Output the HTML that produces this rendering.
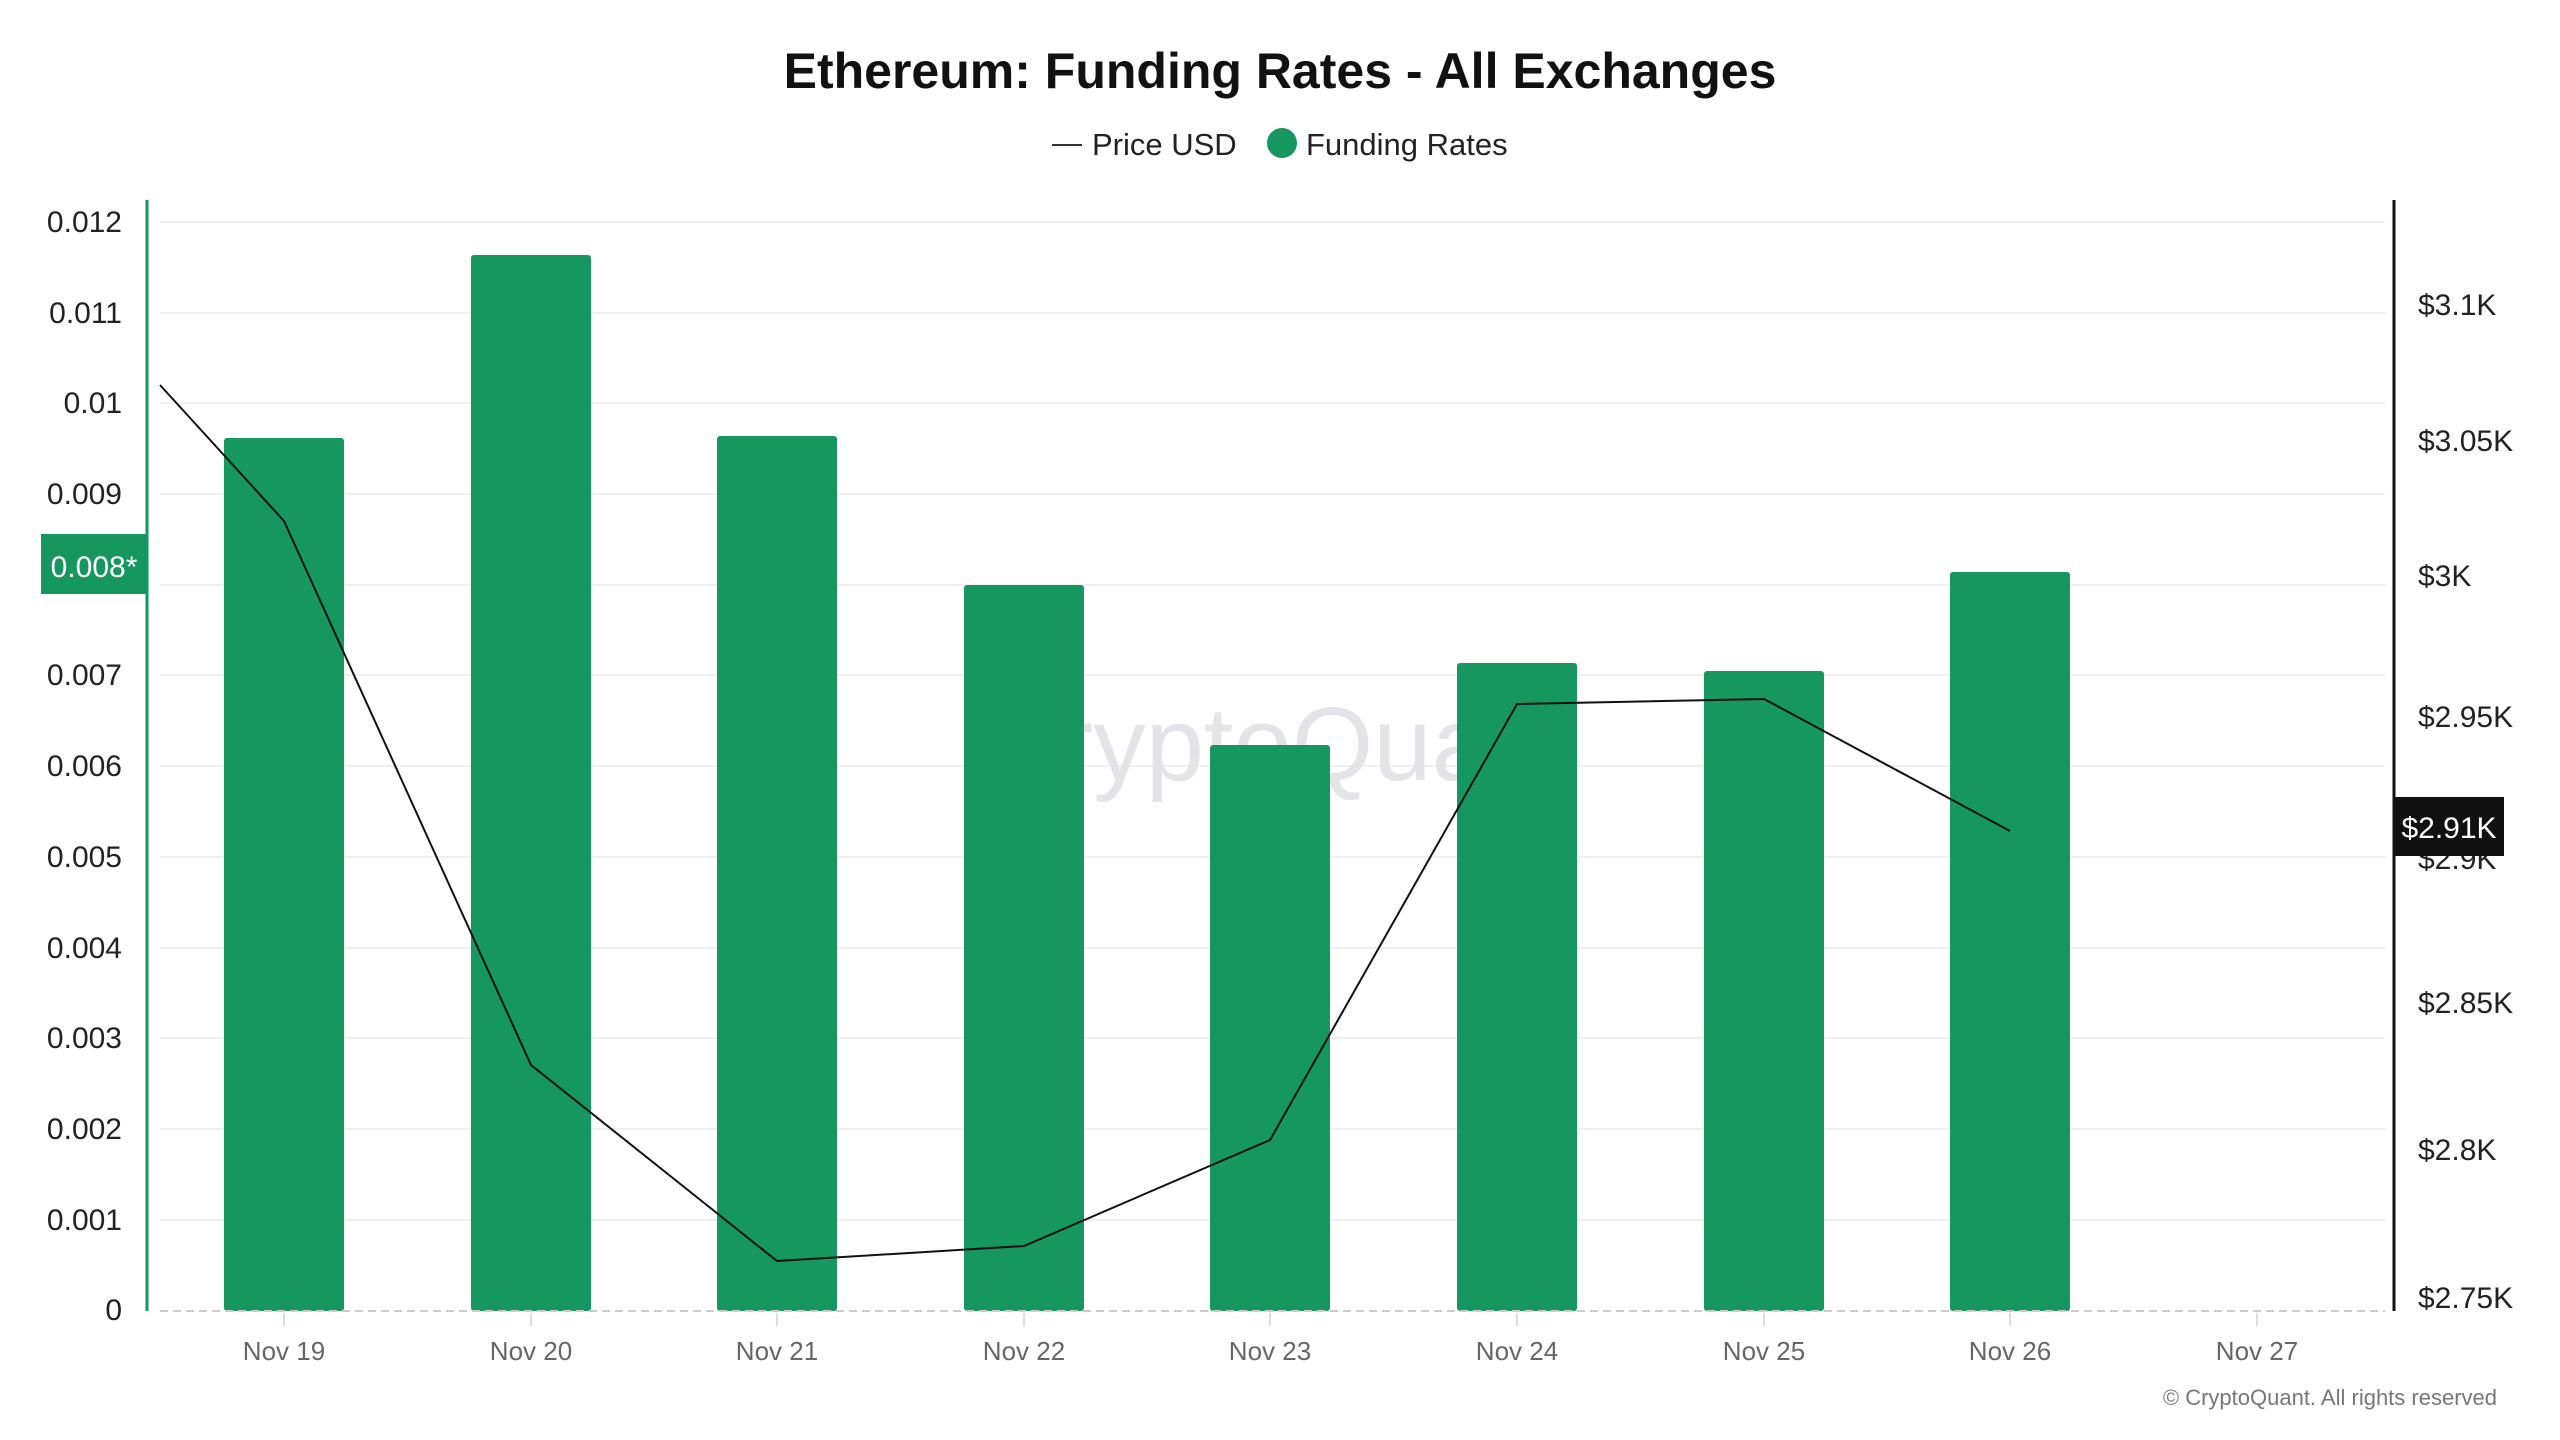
<!DOCTYPE html>
<html><head><meta charset="utf-8"><style>
html,body{margin:0;padding:0;background:#fff;}
svg{display:block;font-family:"Liberation Sans",sans-serif;}
</style></head><body>
<svg width="2560" height="1440" viewBox="0 0 2560 1440" xmlns="http://www.w3.org/2000/svg">
<rect width="2560" height="1440" fill="#fff"/>
<text x="1280" y="88" text-anchor="middle" font-size="50" font-weight="bold" fill="#111">Ethereum: Funding Rates - All Exchanges</text>
<line x1="1052" y1="145" x2="1082" y2="145" stroke="#333" stroke-width="2"/>
<text x="1092" y="155" font-size="31" fill="#222">Price USD</text>
<circle cx="1282" cy="143" r="15" fill="#15975f"/>
<text x="1306" y="155" font-size="31" fill="#222">Funding Rates</text>
<g stroke="#f0f0f0" stroke-width="2">
<line x1="160" x2="2385" y1="222" y2="222"/><line x1="160" x2="2385" y1="313" y2="313"/>
<line x1="160" x2="2385" y1="403" y2="403"/><line x1="160" x2="2385" y1="494" y2="494"/>
<line x1="160" x2="2385" y1="585" y2="585"/><line x1="160" x2="2385" y1="675" y2="675"/>
<line x1="160" x2="2385" y1="766" y2="766"/><line x1="160" x2="2385" y1="857" y2="857"/>
<line x1="160" x2="2385" y1="948" y2="948"/><line x1="160" x2="2385" y1="1038" y2="1038"/>
<line x1="160" x2="2385" y1="1129" y2="1129"/><line x1="160" x2="2385" y1="1220" y2="1220"/>
</g>
<text x="1280" y="780" text-anchor="middle" font-size="105" fill="#e4e4e8">CryptoQuant</text>
<g fill="#15975f">
<rect x="224" y="438" width="120" height="873" rx="3"/>
<rect x="471" y="255" width="120" height="1056" rx="3"/>
<rect x="717" y="436" width="120" height="875" rx="3"/>
<rect x="964" y="585" width="120" height="726" rx="3"/>
<rect x="1210" y="745" width="120" height="566" rx="3"/>
<rect x="1457" y="663" width="120" height="648" rx="3"/>
<rect x="1704" y="671" width="120" height="640" rx="3"/>
<rect x="1950" y="572" width="120" height="739" rx="3"/>
</g>
<line x1="160" y1="1311" x2="2385" y2="1311" stroke="#ccc" stroke-width="2" stroke-dasharray="8,5"/>
<polyline points="160,385 284,521 531,1065 777,1261 1024,1246 1270,1140 1517,704 1764,699 2010,831" fill="none" stroke="#111" stroke-width="2"/>
<line x1="147" y1="200" x2="147" y2="1311" stroke="#15975f" stroke-width="3"/>
<line x1="2394" y1="200" x2="2394" y2="1311" stroke="#111" stroke-width="3"/>
<g font-size="30" fill="#222" text-anchor="end">
<text x="122" y="232">0.012</text><text x="122" y="323">0.011</text><text x="122" y="413">0.01</text>
<text x="122" y="504">0.009</text><text x="122" y="685">0.007</text>
<text x="122" y="776">0.006</text><text x="122" y="867">0.005</text><text x="122" y="958">0.004</text>
<text x="122" y="1048">0.003</text><text x="122" y="1139">0.002</text><text x="122" y="1230">0.001</text>
<text x="122" y="1320">0</text>
</g>
<rect x="41" y="534" width="106" height="60" fill="#15975f"/>
<text x="94" y="577" font-size="30" fill="#fff" text-anchor="middle">0.008*</text>
<g font-size="30" fill="#222">
<text x="2418" y="315">$3.1K</text><text x="2418" y="451">$3.05K</text><text x="2418" y="586">$3K</text>
<text x="2418" y="727">$2.95K</text><text x="2418" y="869">$2.9K</text><text x="2418" y="1013">$2.85K</text>
<text x="2418" y="1160">$2.8K</text><text x="2418" y="1308">$2.75K</text>
</g>
<rect x="2394" y="797" width="110" height="59" fill="#111"/>
<text x="2449" y="838" font-size="30" fill="#fff" text-anchor="middle">$2.91K</text>
<g font-size="26" fill="#666" text-anchor="middle">
<text x="284" y="1360">Nov 19</text><text x="531" y="1360">Nov 20</text><text x="777" y="1360">Nov 21</text>
<text x="1024" y="1360">Nov 22</text><text x="1270" y="1360">Nov 23</text><text x="1517" y="1360">Nov 24</text>
<text x="1764" y="1360">Nov 25</text><text x="2010" y="1360">Nov 26</text><text x="2257" y="1360">Nov 27</text>
</g>
<g stroke="#ddd" stroke-width="2">
<line x1="284" y1="1313" x2="284" y2="1326"/><line x1="531" y1="1313" x2="531" y2="1326"/>
<line x1="777" y1="1313" x2="777" y2="1326"/><line x1="1024" y1="1313" x2="1024" y2="1326"/>
<line x1="1270" y1="1313" x2="1270" y2="1326"/><line x1="1517" y1="1313" x2="1517" y2="1326"/>
<line x1="1764" y1="1313" x2="1764" y2="1326"/><line x1="2010" y1="1313" x2="2010" y2="1326"/>
<line x1="2257" y1="1313" x2="2257" y2="1326"/>
</g>
<text x="2497" y="1405" font-size="22" fill="#777" text-anchor="end">© CryptoQuant. All rights reserved</text>
</svg>
</body></html>
